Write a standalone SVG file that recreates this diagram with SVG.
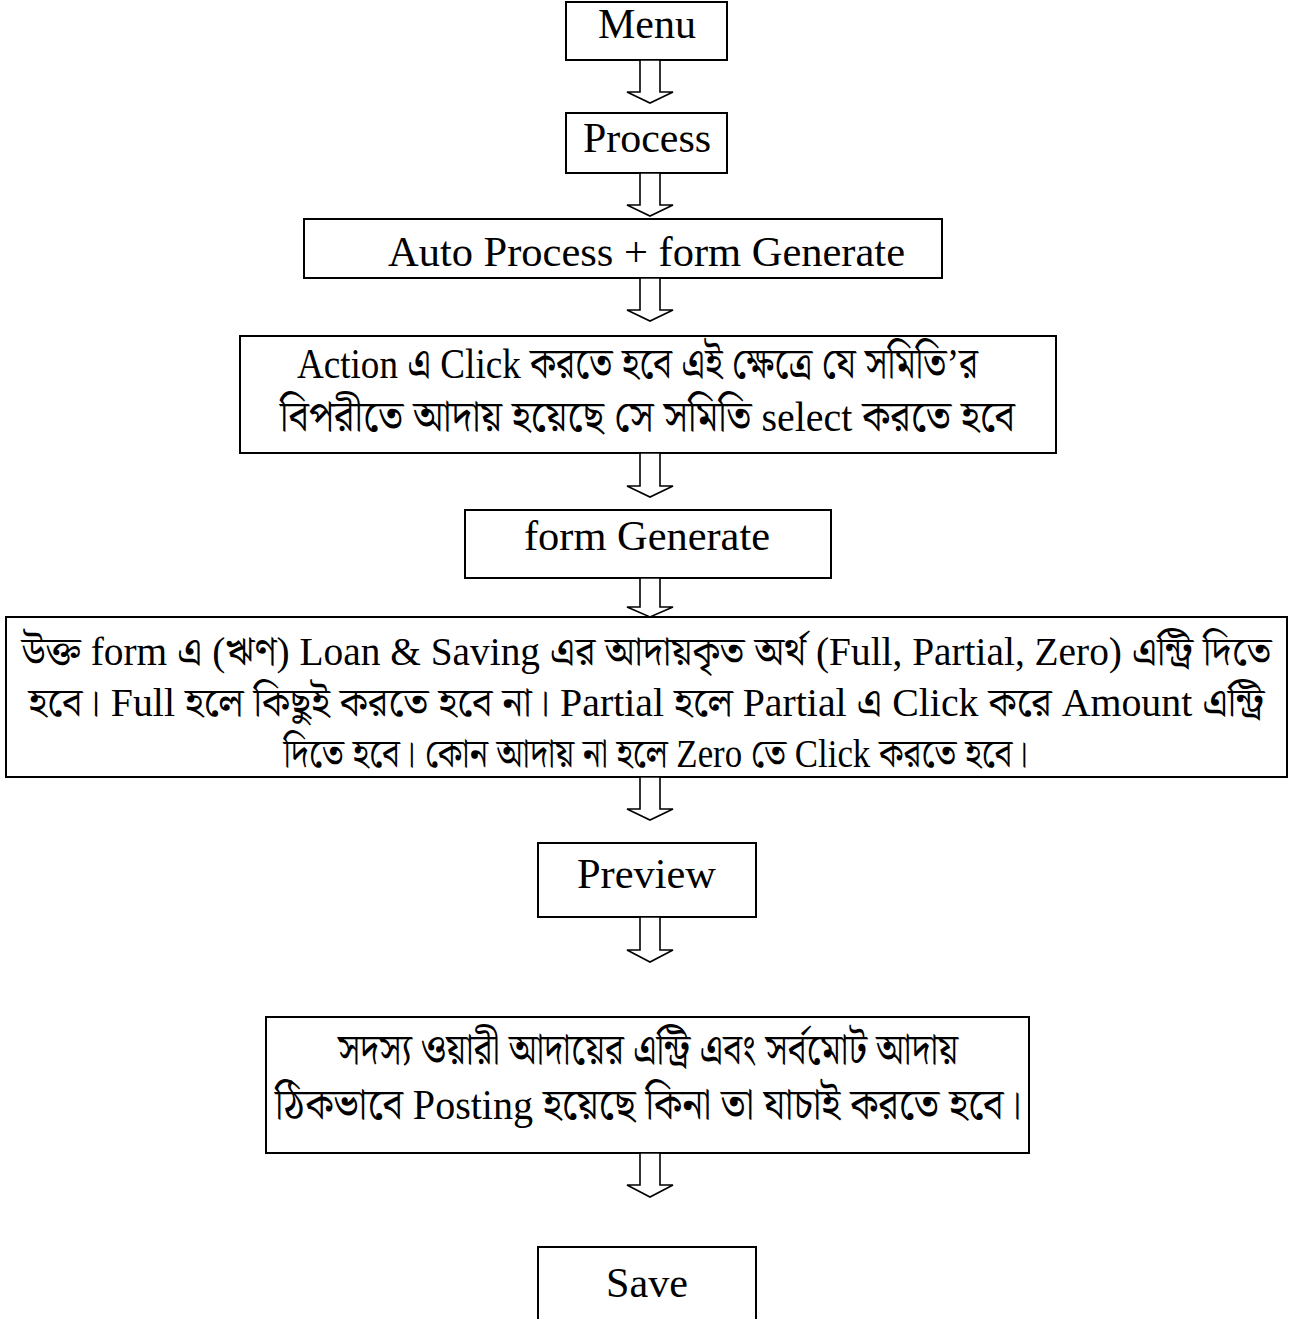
<svg xmlns="http://www.w3.org/2000/svg" width="1307" height="1319" viewBox="0 0 1307 1319">
<style>
.box{fill:#fff;stroke:#000;stroke-width:2}
.arr{fill:#fff;stroke:#000;stroke-width:1.6;stroke-linejoin:miter}
text{font-family:"Liberation Serif","Noto Serif Bengali","Noto Sans Bengali","Lohit Bengali",serif;font-size:43px;fill:#000;text-anchor:middle}
.sm{font-size:40px}
</style>
<rect width="1307" height="1319" fill="#fff"/>
<g id="n-menu"><rect class="box" x="566" y="2" width="161" height="58"/><text x="647" y="38" textLength="98" lengthAdjust="spacingAndGlyphs">Menu</text></g>
<g id="n-process"><rect class="box" x="566" y="113" width="161" height="60"/><text x="647" y="152" textLength="128" lengthAdjust="spacingAndGlyphs">Process</text></g>
<g id="n-auto"><rect class="box" x="304" y="219" width="638" height="59"/><text x="646.5" y="266" textLength="517" lengthAdjust="spacingAndGlyphs">Auto Process + form Generate</text></g>
<g id="n-action"><rect class="box" x="240" y="336" width="816" height="117"/>
<text x="637.5" y="378" textLength="681" lengthAdjust="spacingAndGlyphs">Action এ Click করতে হবে এই ক্ষেত্রে যে সমিতি’র</text>
<text x="647.5" y="431" textLength="735" lengthAdjust="spacingAndGlyphs">বিপরীতে আদায় হয়েছে সে সমিতি select করতে হবে</text></g>
<g id="n-formgen"><rect class="box" x="465" y="510" width="366" height="68"/><text x="647" y="550" textLength="246" lengthAdjust="spacingAndGlyphs">form Generate</text></g>
<g id="n-entry"><rect class="box" x="6" y="617" width="1281" height="160"/>
<text class="sm" x="646.5" y="665" textLength="1250" lengthAdjust="spacingAndGlyphs">উক্ত form এ (ঋণ) Loan &amp; Saving এর আদায়কৃত অর্থ (Full, Partial, Zero) এন্ট্রি দিতে</text>
<text class="sm" x="646.5" y="716" textLength="1236" lengthAdjust="spacingAndGlyphs">হবে। Full হলে কিছুই করতে হবে না। Partial হলে Partial এ Click করে Amount এন্ট্রি</text>
<text class="sm" x="656" y="767" textLength="745" lengthAdjust="spacingAndGlyphs">দিতে হবে। কোন আদায় না হলে Zero তে Click করতে হবে।</text></g>
<g id="n-preview"><rect class="box" x="538" y="843" width="218" height="74"/><text x="646.5" y="888" textLength="139" lengthAdjust="spacingAndGlyphs">Preview</text></g>
<g id="n-check"><rect class="box" x="266" y="1017" width="763" height="136"/>
<text x="648" y="1064" textLength="620" lengthAdjust="spacingAndGlyphs">সদস্য ওয়ারী আদায়ের এন্ট্রি এবং সর্বমোট আদায়</text>
<text x="648.5" y="1119" textLength="747" lengthAdjust="spacingAndGlyphs">ঠিকভাবে Posting হয়েছে কিনা তা যাচাই করতে হবে।</text></g>
<g id="n-save"><rect class="box" x="538" y="1247" width="218" height="90"/><text x="647" y="1297" textLength="82" lengthAdjust="spacingAndGlyphs">Save</text></g>
<g id="connectors">
<polygon class="arr" points="640,60 660,60 660,92 673,92 650,103 627,92 640,92"/>
<polygon class="arr" points="640,173 660,173 660,205 673,205 650,216 627,205 640,205"/>
<polygon class="arr" points="640,278 660,278 660,310 673,310 650,321 627,310 640,310"/>
<polygon class="arr" points="640,453 660,453 660,486 673,486 650,497 627,486 640,486"/>
<polygon class="arr" points="640,578 660,578 660,607 673,607 650,617 627,607 640,607"/>
<polygon class="arr" points="640,777 660,777 660,809 673,809 650,820 627,809 640,809"/>
<polygon class="arr" points="640,917 660,917 660,950 673,950 650,962 627,950 640,950"/>
<polygon class="arr" points="640,1153 660,1153 660,1185 673,1185 650,1197 627,1185 640,1185"/>
</g>
</svg>
